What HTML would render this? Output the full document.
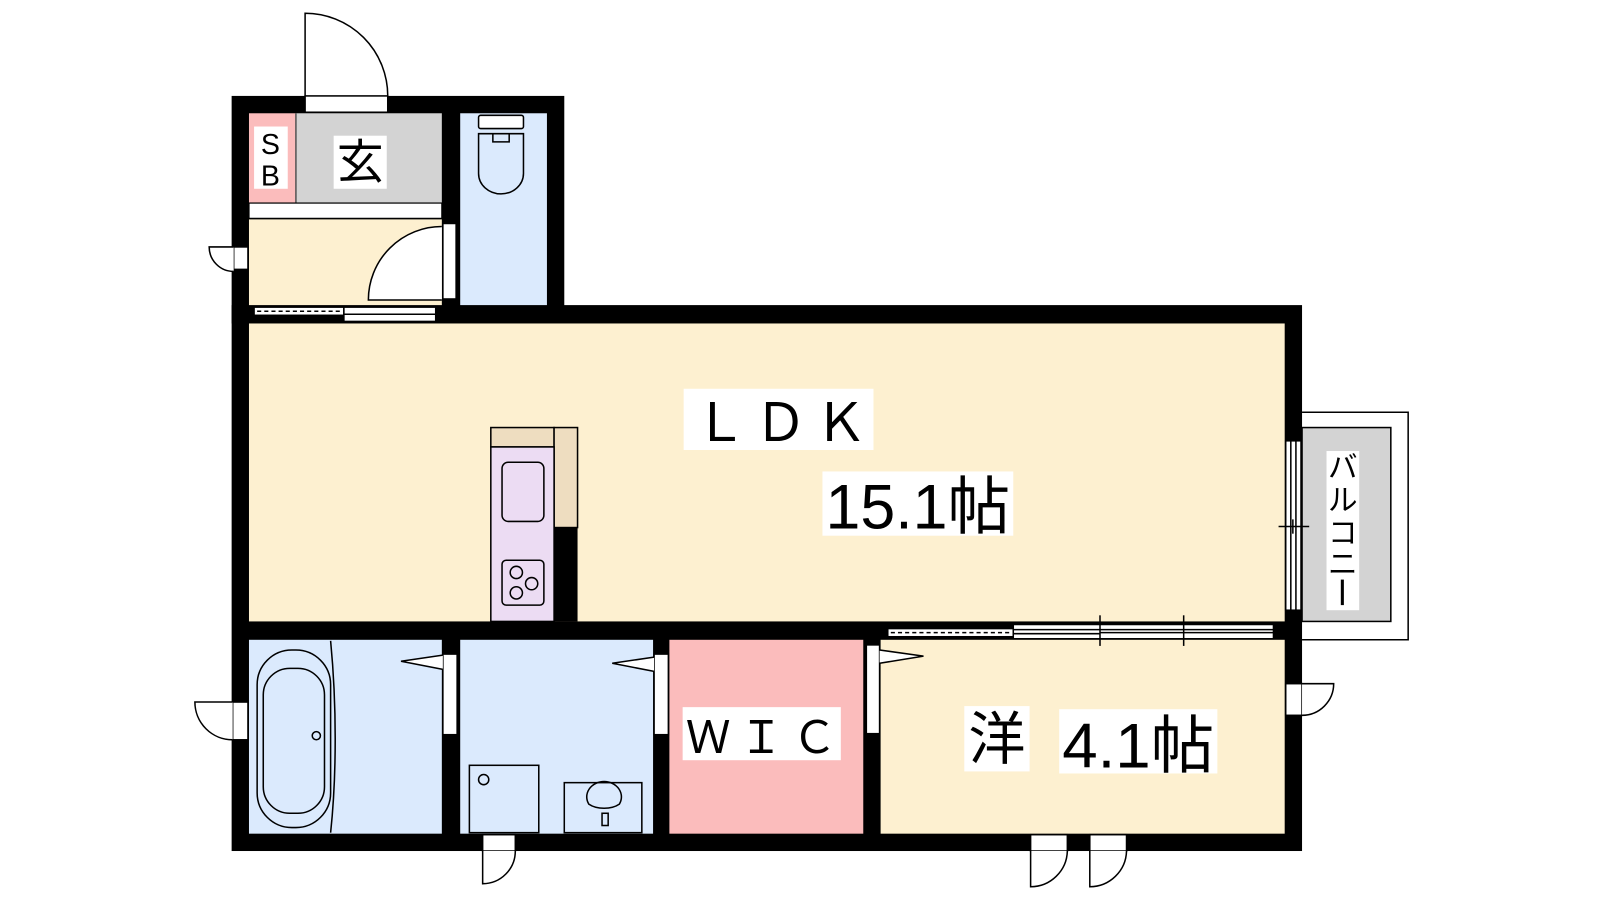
<!DOCTYPE html>
<html><head><meta charset="utf-8"><style>
html,body{margin:0;padding:0;background:#fff;width:1600px;height:900px;overflow:hidden}
svg{display:block}
text{font-family:"Liberation Sans","Noto Sans CJK JP",sans-serif;fill:#000}
</style></head><body>
<svg width="1600" height="900" viewBox="0 0 1568 882" xmlns="http://www.w3.org/2000/svg">
<g stroke="#000" stroke-width="1.5" fill="none">
<path d="M1276 404 H1380 V627 H1276" fill="#fff"/>
<rect x="1276" y="419" width="87" height="190" fill="#d3d3d3"/>
</g>
<rect x="227" y="94" width="326" height="223" fill="#000"/>
<rect x="227" y="299" width="1049" height="535" fill="#000"/>
<rect x="244" y="111" width="46" height="88" fill="#fbbcbc"/>
<rect x="290" y="111" width="143" height="88" fill="#d3d3d3"/>
<line x1="290" y1="111" x2="290" y2="199" stroke="#555" stroke-width="1.5"/>
<rect x="244" y="199" width="189" height="15" fill="#fff" stroke="#000" stroke-width="1.2"/>
<rect x="244" y="215" width="189" height="84" fill="#fdf0d0"/>
<rect x="451" y="111" width="85" height="188" fill="#dbeafd"/>
<rect x="244" y="317" width="1015" height="292" fill="#fdf0d0"/>
<rect x="244" y="627" width="189" height="190" fill="#dbeafd"/>
<rect x="451" y="627" width="189" height="190" fill="#dbeafd"/>
<rect x="656" y="627" width="190" height="190" fill="#fbbcbc"/>
<rect x="863" y="627" width="396" height="190" fill="#fdf0d0"/>
<g stroke="#000" stroke-width="1.5" fill="#fff">
<rect x="299" y="94" width="81" height="16"/>
<path d="M299 94 V13 A81 81 0 0 1 380 94" fill="none"/>
<rect x="434" y="219" width="13" height="74"/>
<path d="M433 222 A72 72 0 0 0 361 294 H433" fill="#fff"/>
<rect x="229" y="242" width="14" height="22"/>
<path d="M229 242 H205 A24 24 0 0 0 229 266" fill="#fff"/>
<rect x="249" y="301" width="88" height="8"/>
<line x1="252" y1="305" x2="336" y2="305" stroke-dasharray="4 3"/>
<rect x="337" y="301" width="90" height="14"/>
<line x1="337" y1="308" x2="427" y2="308"/>
<rect x="469" y="113" width="44" height="13" rx="2"/>
<path d="M469 131 H513 V170 A22 20 0 0 1 469 170 Z" fill="#dbeafd"/>
<path d="M483 131 V139 H499 V131" fill="none"/>
<rect x="481" y="419" width="62" height="19" fill="#eeddc0"/>
<rect x="543" y="419" width="23" height="98" fill="#eeddc0"/>
<rect x="481" y="438" width="62" height="171" fill="#ecdcf3"/>
<rect x="492" y="453" width="41" height="58" rx="6" fill="#ecdcf3"/>
<rect x="492" y="549" width="41" height="44" rx="4" fill="#ecdcf3"/>
<circle cx="506" cy="561" r="6" fill="none"/><circle cx="521" cy="572" r="6" fill="none"/><circle cx="506" cy="581" r="6" fill="none"/>
<rect x="1260" y="432" width="15" height="166"/>
<line x1="1265" y1="432" x2="1265" y2="598"/><line x1="1270" y1="432" x2="1270" y2="598"/>
<line x1="1253" y1="516" x2="1283" y2="516"/><line x1="1267" y1="509" x2="1267" y2="523"/>
<rect x="870" y="616" width="123" height="8"/>
<line x1="873" y1="620" x2="990" y2="620" stroke-dasharray="4 3"/>
<rect x="993" y="612" width="255" height="14"/>
<line x1="993" y1="617" x2="1248" y2="617"/><line x1="1078" y1="620" x2="1248" y2="620"/><line x1="993" y1="621" x2="1078" y2="621"/>
<line x1="1078" y1="603" x2="1078" y2="633"/><line x1="1160" y1="603" x2="1160" y2="633"/>
<path d="M324 628 C330 690 330 760 324 816" fill="none"/>
<rect x="252" y="637" width="72" height="174" rx="34" fill="none"/>
<rect x="258" y="655" width="60" height="142" rx="26" fill="none"/>
<circle cx="310" cy="721" r="4" fill="none"/>
<rect x="434" y="641" width="14" height="79"/>
<path d="M434 642 L393 648 L434 656"/>
<rect x="641" y="641" width="14" height="79"/>
<path d="M641 644 L600 650 L641 658"/>
<rect x="460" y="750" width="68" height="66" fill="none"/>
<circle cx="474" cy="764" r="5" fill="none"/>
<rect x="553" y="767" width="76" height="49" fill="none"/>
<path d="M577 788 A17 15 0 1 1 607 788 A20 12 0 0 1 577 788 Z" fill="none"/>
<rect x="590" y="797" width="6" height="12" fill="#dbeafd"/>
<rect x="849" y="632" width="13" height="87"/>
<path d="M862 637 L905 643 L862 650"/>
<rect x="228" y="688" width="15" height="37"/>
<path d="M228 688 H191 A37 37 0 0 0 228 725" fill="#fff"/>
<rect x="473" y="818" width="32" height="16"/>
<path d="M473 834 V866 A32 32 0 0 0 505 834" fill="#fff"/>
<rect x="1010" y="818" width="36" height="16"/>
<path d="M1010 834 V869 A36 36 0 0 0 1046 834" fill="#fff"/>
<rect x="1068" y="818" width="36" height="16"/>
<path d="M1068 834 V869 A36 36 0 0 0 1104 834" fill="#fff"/>
<rect x="1260" y="670" width="16" height="31"/>
<path d="M1276 670 H1307 A31 31 0 0 1 1276 701" fill="#fff"/>
</g>
<rect x="543" y="517" width="23" height="92" fill="#000"/>
<rect x="249" y="124" width="33" height="61" fill="#fff"/>
<text x="265" y="151" font-size="28" text-anchor="middle">S</text>
<text x="265" y="182" font-size="28" text-anchor="middle">B</text>
<rect x="327" y="133" width="52" height="52" fill="#fff"/>
<text x="353" y="175" font-size="46" text-anchor="middle">玄</text>
<rect x="670" y="381" width="186" height="60" fill="#fff"/>
<text x="680" y="432" font-size="52" textLength="170" lengthAdjust="spacing">ＬＤＫ</text>
<rect x="806" y="462" width="187" height="63" fill="#fff"/>
<text x="809" y="518" font-size="62" textLength="181" lengthAdjust="spacingAndGlyphs">15.1帖</text>
<rect x="669" y="693" width="155" height="52" fill="#fff"/>
<text x="672" y="738" font-size="44" textLength="148" lengthAdjust="spacing">ＷＩＣ</text>
<rect x="1300" y="442" width="32" height="156" fill="#fff"/>
<text x="1316" y="468" font-size="29" text-anchor="middle">バ</text>
<text x="1316" y="500" font-size="29" text-anchor="middle">ル</text>
<text x="1316" y="532" font-size="29" text-anchor="middle">コ</text>
<text x="1316" y="563" font-size="29" text-anchor="middle">ニ</text>
<rect x="1314" y="568" width="3" height="25" fill="#000"/>
<rect x="945" y="692" width="64" height="64" fill="#fff"/>
<text x="977" y="744" font-size="56" text-anchor="middle">洋</text>
<rect x="1038" y="695" width="155" height="63" fill="#fff"/>
<text x="1041" y="752" font-size="62" textLength="149" lengthAdjust="spacingAndGlyphs">4.1帖</text>
</svg>
</body></html>
